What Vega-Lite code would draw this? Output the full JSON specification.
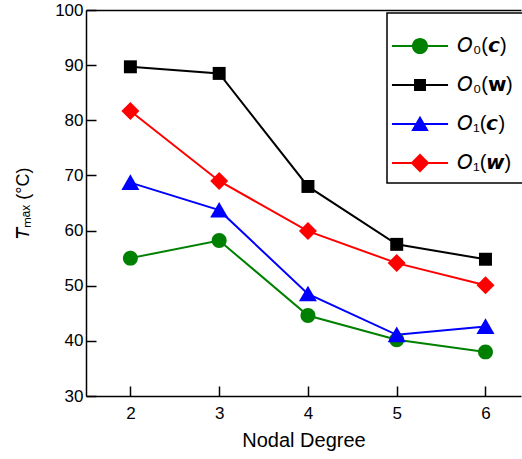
{
  "$schema": "https://vega.github.io/schema/vega-lite/v6.json",
  "width": 435,
  "height": 386,
  "autosize": "none",
  "padding": {"left": 86, "top": 10, "right": 1, "bottom": 63},
  "config": {
    "view": {"stroke": null},
    "font": "Liberation Sans",
    "axis": {"domainColor": "#000", "domainWidth": 1.5, "tickColor": "#000", "tickWidth": 1.5, "grid": false, "labelColor": "#000", "titleColor": "#000", "labelFontSize": 17, "titleFontSize": 20, "titleFontWeight": "normal"},
    "legend": {
      "title": null, "orient": "none", "legendX": 301, "legendY": 3,
      "strokeColor": "#000", "strokeWidth": 1.5, "padding": 10,
      "symbolSize": 2116, "symbolStrokeWidth": 0, "symbolOpacity": 1, "labelFontSize": 20, "labelOffset": 14, "rowPadding": 6,
      "labelColor": "#000"
    }
  },
  "data": {
    "values": [
      {"degree": 2, "series": "O0(c)", "T": 55.0},
      {"degree": 3, "series": "O0(c)", "T": 58.2},
      {"degree": 4, "series": "O0(c)", "T": 44.6},
      {"degree": 5, "series": "O0(c)", "T": 40.2},
      {"degree": 6, "series": "O0(c)", "T": 38.0},
      {"degree": 2, "series": "O0(w)", "T": 89.7},
      {"degree": 3, "series": "O0(w)", "T": 88.5},
      {"degree": 4, "series": "O0(w)", "T": 68.0},
      {"degree": 5, "series": "O0(w)", "T": 57.5},
      {"degree": 6, "series": "O0(w)", "T": 54.8},
      {"degree": 2, "series": "O1(c)", "T": 68.7},
      {"degree": 3, "series": "O1(c)", "T": 63.7},
      {"degree": 4, "series": "O1(c)", "T": 48.5},
      {"degree": 5, "series": "O1(c)", "T": 41.1},
      {"degree": 6, "series": "O1(c)", "T": 42.6},
      {"degree": 2, "series": "O1(w)", "T": 81.7},
      {"degree": 3, "series": "O1(w)", "T": 69.0},
      {"degree": 4, "series": "O1(w)", "T": 59.9},
      {"degree": 5, "series": "O1(w)", "T": 54.1},
      {"degree": 6, "series": "O1(w)", "T": 50.1}
    ]
  },
  "resolve": {"axis": {"x": "independent"}, "scale": {"shape": "independent"}, "legend": {"color": "independent", "shape": "independent"}},
  "layer": [
    {
      "mark": {"type": "line", "strokeWidth": 2},
      "encoding": {
        "x": {"field": "degree", "type": "quantitative", "scale": {"domain": [1.5, 6.4], "nice": false, "zero": false},
          "axis": {"title": "Nodal Degree", "values": [2, 2.5, 3, 3.5, 4, 4.5, 5, 5.5, 6], "format": "d", "labelExpr": "datum.value % 1 === 0 ? datum.label : ''",
            "tickSize": {"condition": {"test": "datum.value % 1 === 0", "value": -10}, "value": -5}, "labelPadding": 19, "titlePadding": 9}},
        "y": {"field": "T", "type": "quantitative", "scale": {"domain": [30, 100], "nice": false, "zero": false},
          "axis": {"title": "𝘛ₘₐₓ (°C)", "titleFontSize": 18, "values": [30, 35, 40, 45, 50, 55, 60, 65, 70, 75, 80, 85, 90, 95, 100], "labelExpr": "datum.value % 10 === 0 ? datum.label : ''",
            "tickSize": {"condition": {"test": "datum.value % 10 === 0", "value": -10}, "value": -5}, "labelPadding": 13, "titlePadding": 22}},
        "color": {"field": "series", "type": "nominal", "scale": {"domain": ["O0(c)", "O0(w)", "O1(c)", "O1(w)"], "range": ["#008000", "#000000", "#0000ff", "#ff0000"]}, "legend": null}
      }
    },
    {
      "mark": {"type": "point", "filled": true, "size": 324, "opacity": 1, "strokeWidth": 0},
      "encoding": {
        "x": {"field": "degree", "type": "quantitative", "axis": {"orient": "top", "title": null, "labels": false, "ticks": false, "domain": true}},
        "y": {"field": "T", "type": "quantitative"},
        "color": {"field": "series", "type": "nominal", "legend": null},
        "shape": {"field": "series", "type": "nominal", "scale": {"domain": ["O0(c)", "O0(w)", "O1(c)", "O1(w)"],
          "range": ["M0.83,0A0.83,0.83,0,1,1,-0.83,0A0.83,0.83,0,1,1,0.83,0Z", "M-0.72,-0.72H0.72V0.72H-0.72Z", "M0,-0.92L1,0.82L-1,0.82Z", "M0,-1L1,0L0,1L-1,0Z"]}, "legend": null}
      }
    },
    {
      "transform": [{"filter": "datum.degree > 100"}],
      "mark": {"type": "point", "filled": true, "strokeWidth": 0},
      "encoding": {
        "color": {"field": "series", "type": "nominal",
          "legend": {"labelExpr": "datum.value === 'O0(c)' ? '𝘖₀(𝙘)' : datum.value === 'O0(w)' ? '𝘖₀(𝘄)' : datum.value === 'O1(c)' ? '𝘖₁(𝙘)' : '𝘖₁(𝙬)'"}},
        "shape": {"field": "series", "type": "nominal", "scale": {"domain": ["O0(c)", "O0(w)", "O1(c)", "O1(w)"],
          "range": ["M-1.22,-0.045H1.22V0.045H-1.22Z M0.35,0A0.35,0.35,0,1,1,-0.35,0A0.35,0.35,0,1,1,0.35,0Z", "M-1.22,-0.045H1.22V0.045H-1.22Z M-0.26,-0.26H0.26V0.26H-0.26Z", "M-1.22,-0.045H1.22V0.045H-1.22Z M0,-0.36L0.38,0.3L-0.38,0.3Z", "M-1.22,-0.045H1.22V0.045H-1.22Z M0,-0.41L0.41,0L0,0.41L-0.41,0Z"]},
          "legend": {"labelExpr": "datum.value === 'O0(c)' ? '𝘖₀(𝙘)' : datum.value === 'O0(w)' ? '𝘖₀(𝘄)' : datum.value === 'O1(c)' ? '𝘖₁(𝙘)' : '𝘖₁(𝙬)'"}}
      }
    }
  ]
}
